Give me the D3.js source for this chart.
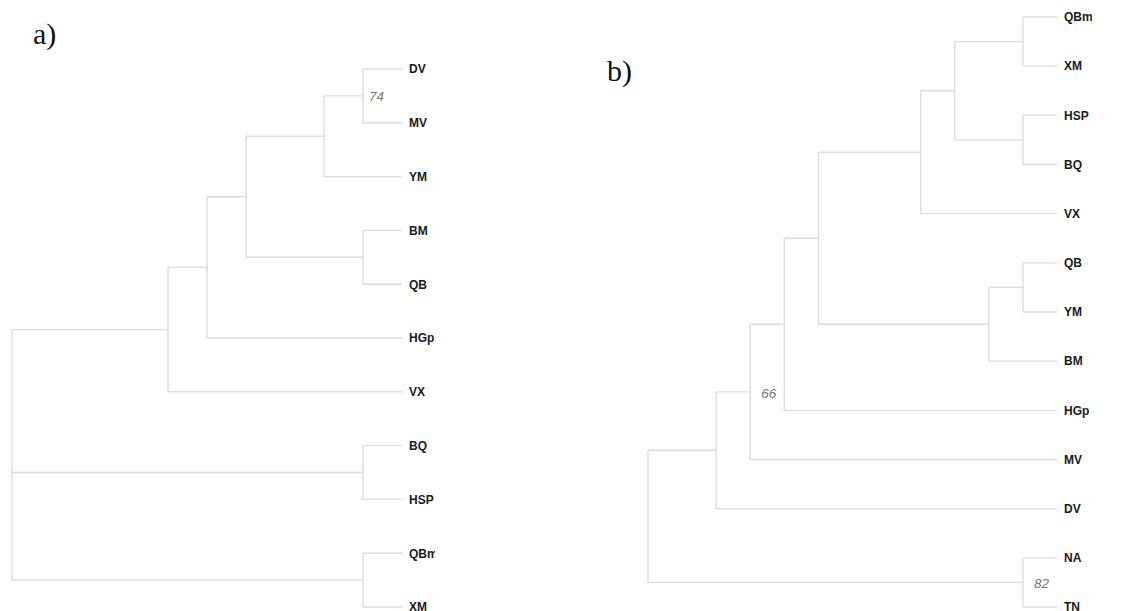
<!DOCTYPE html>
<html>
<head>
<meta charset="utf-8">
<script src="https://d3js.org/d3.v7.min.js"></script>
<style>
  body { margin: 0; background: #fff; }
  svg { display: block; }
</style>
</head>
<body>
<script>
var w = 1126, h = 611;

// tree a) in Newick form, support values after the closing bracket
var newickA = "(((((((DV,MV)74,YM),(BM,QB)),HGp),VX),(BQ,HSP),(QBm,XM))";
var leavesA = ["DV", "MV", "YM", "BM", "QB", "HGp", "VX", "BQ", "HSP", "QBm", "XM"];

// tree b)
var newickB = "((((((((QBm,XM),(HSP,BQ)),VX),((QB,YM),BM)),HGp),MV)66,DV),(NA,TN)82)";
var leavesB = ["QBm", "XM", "HSP", "BQ", "VX", "QB", "YM", "BM", "HGp", "MV", "DV", "NA", "TN"];

function parseNewick(s) {
  var stack = [], cur = { children: [] }, tok = s.split(/\s*(\(|\)|,)\s*/);
  var root = cur;
  for (var i = 0; i < tok.length; i++) {
    var t = tok[i];
    if (t === "(") {
      var c = { children: [] };
      cur.children.push(c);
      stack.push(cur);
      cur = c;
    } else if (t === ")") {
      var done = cur;
      cur = stack.pop();
      if (tok[i + 1] && tok[i + 1] !== "," && tok[i + 1] !== ")" && tok[i + 1] !== "(") {
        done.support = tok[i + 1];
        i++;
      }
    } else if (t === "," || t === "") {
      continue;
    } else {
      cur.children.push({ name: t });
    }
  }
  return root.children[0];
}

var svg = d3.select("body").append("svg")
            .attr("width", w)
            .attr("height", h);

var defs = svg.append("defs");

function drawTree(newick, leaves, opt) {
  var root = d3.hierarchy(parseNewick(newick));
  var nLeaves = root.leaves().length;
  // cladogram: node distance from the tips = leaves under it minus one
  var x = d3.scaleLinear().domain([nLeaves - 1, 0]).range([opt.x0, opt.x1]);
  var y = d3.scalePoint().domain(leaves).range([opt.y0, opt.y1]);

  root.eachAfter(function(n) {
    n.px = x(n.leaves().length - 1);
    if (n.children) {
      n.py = (n.children[0].py + n.children[n.children.length - 1].py) / 2;
    } else {
      n.py = y(n.data.name);
    }
  });

  var g = svg.append("g");

  // horizontal branches
  g.selectAll(".hbr")
   .data(root.descendants().filter(function(n) { return n.parent; }))
   .enter().append("path")
   .attr("class", "hbr")
   .attr("d", function(n) { return "M" + n.parent.px + "," + n.py + "H" + n.px; })
   .attr("fill", "none")
   .attr("stroke", "#dcdcdc")
   .attr("stroke-width", 1.4);

  // vertical connectors
  g.selectAll(".vbr")
   .data(root.descendants().filter(function(n) { return n.children; }))
   .enter().append("path")
   .attr("class", "vbr")
   .attr("d", function(n) {
     var c = n.children;
     return "M" + n.px + "," + c[0].py + "V" + c[c.length - 1].py;
   })
   .attr("fill", "none")
   .attr("stroke", "#dcdcdc")
   .attr("stroke-width", 1.4);

  // tip labels, cut off at the right edge like the source figure
  defs.append("clipPath").attr("id", opt.id)
      .append("rect")
      .attr("x", opt.x1).attr("y", 0)
      .attr("width", opt.clip - opt.x1).attr("height", h);

  g.append("g")
   .attr("clip-path", "url(#" + opt.id + ")")
   .selectAll("text")
   .data(root.leaves())
   .enter().append("text")
   .attr("x", function(n) { return n.px + 7; })
   .attr("y", function(n) { return n.py; })
   .attr("dy", "0.36em")
   .attr("font-family", "Liberation Sans, Arial, sans-serif")
   .attr("font-weight", "bold")
   .attr("font-size", 12)
   .attr("fill", "#1a1a1a")
   .text(function(n) { return n.data.name; });

  // bootstrap values
  g.selectAll(".sup")
   .data(root.descendants().filter(function(n) { return n.data.support; }))
   .enter().append("text")
   .attr("class", "sup")
   .attr("x", function(n) { return n.px + opt.sdx; })
   .attr("y", function(n) { return n.py + opt.sdy; })
   .attr("font-family", "Liberation Sans, Arial, sans-serif")
   .attr("font-style", "italic")
   .attr("font-size", 13.5)
   .attr("fill", "#777")
   .text(function(n) { return n.data.support; });
}

drawTree(newickA, leavesA, { id: "clipA", x0: 12, x1: 402, y0: 69, y1: 607, clip: 435, sdx: 6, sdy: 5 });
drawTree(newickB, leavesB, { id: "clipB", x0: 648, x1: 1057, y0: 17, y1: 607, clip: 1092, sdx: 11, sdy: 6 });

// panel letters
svg.append("text")
   .attr("x", 33).attr("y", 44)
   .attr("font-family", "Liberation Serif, Times New Roman, serif")
   .attr("font-size", 30)
   .attr("fill", "#111")
   .text("a)");
svg.append("text")
   .attr("x", 607).attr("y", 81)
   .attr("font-family", "Liberation Serif, Times New Roman, serif")
   .attr("font-size", 30)
   .attr("fill", "#111")
   .text("b)");
</script>
</body>
</html>
